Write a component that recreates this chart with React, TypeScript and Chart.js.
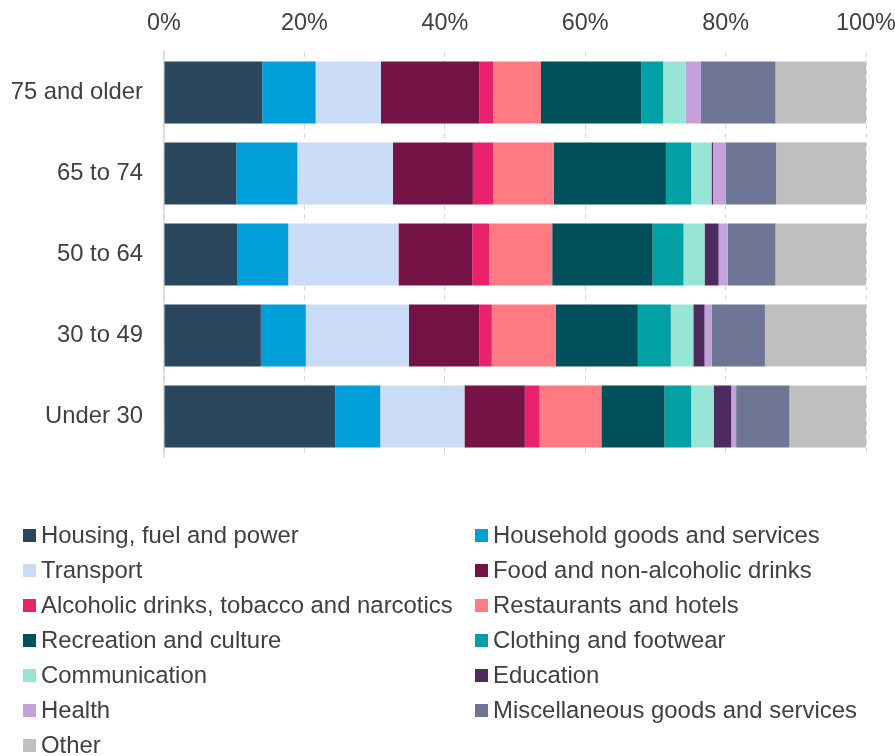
import React, { useEffect, useRef } from "react";
import { Chart, registerables } from "chart.js";

Chart.register(...registerables);

const categories = ["75 and older", "65 to 74", "50 to 64", "30 to 49", "Under 30"];
const tickValues = [0, 20, 40, 60, 80, 100];

const housing = [14.0, 10.3, 10.4, 13.8, 24.4];
const household = [7.6, 8.7, 7.3, 6.4, 6.4];
const transport = [9.3, 13.6, 15.7, 14.7, 12.0];
const food = [14.0, 11.4, 10.5, 10.0, 8.6];
const alcohol = [2.0, 2.9, 2.4, 1.8, 2.1];
const restaurants = [6.8, 8.6, 9.0, 9.1, 8.8];
const recreation = [14.3, 16.0, 14.3, 11.7, 9.0];
const clothing = [3.1, 3.6, 4.4, 4.7, 3.8];
const communication = [3.2, 2.9, 3.0, 3.2, 3.2];
const education = [0, 0.2, 2.0, 1.6, 2.5];
const health = [2.2, 1.8, 1.3, 1.0, 0.7];
const misc = [10.6, 7.2, 6.8, 7.6, 7.6];
const other = [12.9, 12.8, 12.9, 14.4, 10.9];

const seriesLabels = [
  "Housing, fuel and power",
  "Household goods and services",
  "Transport",
  "Food and non-alcoholic drinks",
  "Alcoholic drinks, tobacco and narcotics",
  "Restaurants and hotels",
  "Recreation and culture",
  "Clothing and footwear",
  "Communication",
  "Education",
  "Health",
  "Miscellaneous goods and services",
  "Other",
];
const seriesValues = [
  housing, household, transport, food, alcohol, restaurants, recreation,
  clothing, communication, education, health, misc, other,
];
const seriesColors = [
  "#2A475E", "#009FDA", "#C9DBF6", "#751347", "#E8236B", "#FF7A82",
  "#00505C", "#00A0A4", "#98E5D5", "#4E2A5E", "#C5A1DB", "#6E7595", "#BFBFBF",
];

const FONT = '"Liberation Sans", Arial, sans-serif';
const TEXT = "#404040";

const twoColLegend = {
  id: "twoColLegend",
  afterDraw(chart: any) {
    const ctx = chart.ctx;
    ctx.save();
    chart.data.datasets.forEach((ds: any, i: number) => {
      const col = i % 2;
      const row = Math.floor(i / 2);
      const bx = col === 0 ? 23 : 475;
      const cy = 535.5 + row * 35;
      ctx.fillStyle = ds.backgroundColor;
      ctx.fillRect(bx, cy - 6.5, 13, 13);
      ctx.fillStyle = TEXT;
      ctx.font = `23.9px ${FONT}`;
      ctx.textBaseline = "middle";
      ctx.textAlign = "left";
      ctx.fillText(ds.label, bx + 18, cy + 0.5);
    });
    ctx.restore();
  },
};

export default function App() {
  const ref = useRef<HTMLCanvasElement | null>(null);

  useEffect(() => {
    document.body.style.margin = "0";
    if (!ref.current) return;
    const chart = new Chart(ref.current, {
      type: "bar",
      data: {
        labels: categories,
        datasets: seriesLabels.map((label, i) => ({
          label,
          data: seriesValues[i],
          backgroundColor: seriesColors[i],
          borderWidth: 0,
          categoryPercentage: 1,
          barPercentage: 0.765,
        })),
      },
      options: {
        indexAxis: "y",
        responsive: false,
        animation: false,
        devicePixelRatio: 1,
        layout: { padding: { left: 0, right: 29, top: 0, bottom: 299 } },
        plugins: {
          legend: { display: false },
          tooltip: { enabled: false },
        },
        scales: {
          x: {
            position: "top",
            stacked: true,
            min: 0,
            max: 100,
            afterBuildTicks: (scale: any) => {
              scale.ticks = tickValues.map((v) => ({ value: v }));
            },
            ticks: {
              callback: (v: any) => `${v}%`,
              color: TEXT,
              font: { family: FONT, size: 23.4 },
              padding: 14,
              maxRotation: 0,
            },
            grid: { color: "#D9D9D9", lineWidth: 1, drawTicks: false },
            border: { display: false, dash: [5, 4] },
            afterFit: (scale: any) => {
              scale.height = 52;
              scale.paddingLeft = 0;
              scale.paddingRight = 0;
            },
          },
          y: {
            stacked: true,
            ticks: {
              color: TEXT,
              font: { family: FONT, size: 23.8 },
              padding: 21,
            },
            grid: { display: false, drawTicks: false },
            border: { display: true, color: "#D9D9D9", width: 1.5 },
            afterFit: (scale: any) => {
              scale.width = 164;
              scale.paddingTop = 0;
              scale.paddingBottom = 0;
            },
          },
        },
      },
      plugins: [twoColLegend],
    });
    return () => chart.destroy();
  }, []);

  return (
    <div style={{ position: "absolute", left: 0, top: 0, width: 895, height: 756, background: "#fff" }}>
      <canvas ref={ref} width={895} height={756} style={{ display: "block" }} />
    </div>
  );
}
